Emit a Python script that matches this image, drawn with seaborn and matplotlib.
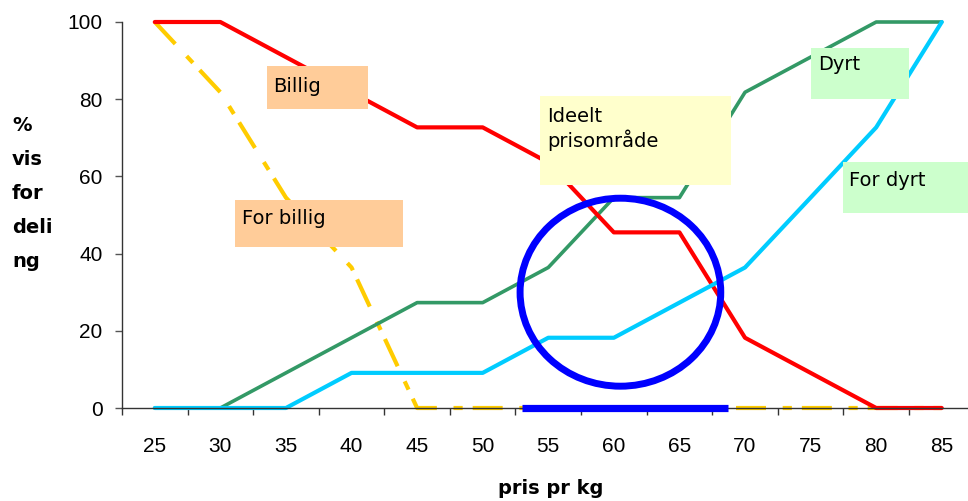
import matplotlib

matplotlib.use("Agg")

import matplotlib.pyplot as plt
import seaborn as sns
from matplotlib.patches import Ellipse, Rectangle

# price points (kr per kg) and cumulative share of answers (%)
prices = [25, 30, 35, 40, 45, 50, 55, 60, 65, 70, 75, 80, 85]
billig = [100, 100, 90.9, 81.8, 72.7, 72.7, 63.6, 45.5, 45.5, 18.2, 9.1, 0, 0]
for_billig = [100, 81.8, 54.5, 36.4, 0, 0, 0, 0, 0, 0, 0, 0, 0]
dyrt = [0, 0, 9.1, 18.2, 27.3, 27.3, 36.4, 54.5, 54.5, 81.8, 90.9, 100, 100]
for_dyrt = [0, 0, 0, 9.1, 9.1, 9.1, 18.2, 18.2, 27.3, 36.4, 54.5, 72.7, 100]
y_ticks = [0, 20, 40, 60, 80, 100]

W, H = 968, 501

sns.set_style("white")
plt.rcParams["font.family"] = ["Liberation Sans", "DejaVu Sans"]
plt.rcParams["text.color"] = "black"
plt.rcParams["xtick.color"] = "black"
plt.rcParams["ytick.color"] = "black"

fig = plt.figure(figsize=(W / 100, H / 100), dpi=100)
ax = fig.add_axes([122 / W, 93 / H, 846 / W, 386 / H])


def px(x, y):
    # figure pixel (from top-left) -> figure fraction
    return x / W, 1 - y / H


sns.lineplot(x=prices, y=for_billig, color="#FFCC00", lw=3, ax=ax, clip_on=False)
ax.lines[-1].set_dashes((7.2, 4, 2.2, 2.4))
sns.lineplot(x=prices, y=dyrt, color="#339966", lw=2.6, ax=ax, clip_on=False)
sns.lineplot(x=prices, y=billig, color="#FF0000", lw=3, ax=ax, clip_on=False)
sns.lineplot(x=prices, y=for_dyrt, color="#00CCFF", lw=3, ax=ax, clip_on=False)

# ideal price range marker
ax.plot([53.0, 68.7], [0, 0], color="#0000FF", lw=5.2, solid_capstyle="butt",
        clip_on=False, zorder=5)
ax.add_patch(Ellipse((60.5, 30.0), 15.3, 48.7, fill=False, ec="#0000FF", lw=5,
                     zorder=6))

ax.set_xlim(22.5, 87.0)
ax.set_ylim(0, 100)
ax.set_xticks(prices)
ax.set_xticklabels([str(p) for p in prices], fontsize=15,
                   family=["Liberation Sans"])
ax.set_xticks([p - 2.5 for p in prices], minor=True)
ax.tick_params(axis="x", which="major", length=0, pad=21)
ax.tick_params(axis="x", which="minor", length=5, width=1, color="#333333",
               direction="out", bottom=True)
ax.set_yticks(y_ticks)
ax.set_yticklabels([str(v) for v in y_ticks], fontsize=15,
                   family=["Liberation Sans"])
ax.tick_params(axis="y", length=5, width=1, color="#555555", pad=9, left=True)
sns.despine(ax=ax)
for side in ["left", "bottom"]:
    ax.spines[side].set_color("#333333")
    ax.spines[side].set_linewidth(1)
ax.set_xlabel("")
ax.set_ylabel("")

# labelled boxes
boxes = [
    ("Billig", (267, 66, 368, 109), "#FFCC99", 273, 86),
    ("For billig", (235, 200, 403, 247), "#FFCC99", 242, 218),
    ("Dyrt", (811, 48, 909, 99), "#CCFFCC", 818, 65),
    ("For dyrt", (843, 162, 968, 213), "#CCFFCC", 849, 180),
    ("Ideelt\nprisområde", (540, 96, 731, 185), "#FFFFCC", 547, 129),
]
for label, (x0, y0, x1, y1), col, tx, ty in boxes:
    fx, fy = px(x0, y1)
    fig.patches.append(Rectangle((fx, fy), (x1 - x0) / W, (y1 - y0) / H,
                                 transform=fig.transFigure, fc=col, ec="none",
                                 zorder=3))
    fx, fy = px(tx, ty)
    fig.text(fx, fy, label, fontsize=14, ha="left", va="center",
             family=["DejaVu Sans"], zorder=4, linespacing=1.25)

# axis titles
for i, part in enumerate(["%", "vis", "for", "deli", "ng"]):
    fx, fy = px(12, 131 + i * 34)
    fig.text(fx, fy, part, fontsize=14, fontweight="bold", ha="left",
             va="baseline", family=["DejaVu Sans"])
fx, fy = px(551, 488)
fig.text(fx, fy, "pris pr kg", fontsize=14, fontweight="bold", ha="center",
         va="center", family=["DejaVu Sans"])

fig.savefig("out.png", dpi=100)
plt.close(fig)
